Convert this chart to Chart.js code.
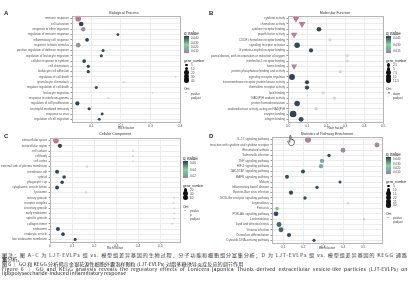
<!DOCTYPE html>
<html lang="zh-CN">
<head>
<meta charset="utf-8">
<script src="https://cdn.jsdelivr.net/npm/chart.js@4.4.1/dist/chart.umd.min.js"></script>
<style>
  body { margin: 0; width: 420px; height: 300px; background: #fff; position: relative; overflow: hidden;
         font-family: "Liberation Sans", Arial, sans-serif; color: #222; }
  .abs { position: absolute; white-space: nowrap; }
  .letter { font-size: 6px; font-weight: bold; }
  .ttl { font-size: 3.6px; color: #333; transform: translateX(-50%); }
  .cap { position: absolute; left: 2px; font-family: "Noto Sans CJK SC", "Liberation Sans", sans-serif;
         font-size: 4.3px; line-height: 4.6px; color: #2a2a2a; white-space: nowrap;
         transform: scaleX(1.2); transform-origin: 0 0; }
  .cap.full { width: 338px; white-space: normal; text-align: justify; text-align-last: justify; }
  #hand { position: absolute; left: 287px; top: 135px; width: 9px; height: 11px; }
</style>
</head>
<body>
<script>
// ---- data: GO biological process
const bpTerms = ["immune response", "cell activation", "response to other organism", "regulation of immune response",
  "inflammatory cell response", "response to biotic stimulus", "positive regulation of defense response",
  "regulation of leukocyte migration", "cellular response to cytokine", "cell chemotaxis", "leukocyte cell adhesion",
  "regulation of cell death", "granulocyte chemotaxis", "negative regulation of cell death", "leukocyte migration",
  "response to interferon-gamma", "regulation of cell proliferation", "neutrophil mediated immunity",
  "response to virus", "regulation of cell migration"];
const bpRich  = [0.056, 0.066, 0.073, 0.19, 0.086, 0.056, 0.14, 0.134, 0.076, 0.09, 0.09, 0.385, 0.21, 0.117, 0.307, 0.158, 0.053, 0.093, 0.137, 0.127];
const bpGenes = [40, 25, 22, 6, 15, 28, 8, 8, 14, 10, 10, 2, 3, 8, 2, 3, 20, 9, 7, 7];
const bpQ     = [0.001, 0.039, 0.004, 0.039, 0.039, 0.005, 0.038, 0.038, 0.039, 0.039, 0.039, 0.04, 0.04, 0.038, 0.04, 0.04, 0.039, 0.039, 0.038, 0.038];
const bpType  = ["p","p","p","p","p","p","p","p","p","p","p","n","n","p","n","n","p","p","p","p"];

// ---- data: GO molecular function
const mfTerms = ["cytokine activity", "chemokine activity", "cytokine receptor binding", "growth factor activity",
  "CXCR chemokine receptor binding", "signaling receptor activator", "G protein-coupled receptor binding",
  "oxidoreductase activity, acting on paired donors, with incorporation or reduction of oxygen",
  "interleukin-1 receptor binding", "heme binding", "protein phosphatase binding and activity",
  "signaling receptor regulator", "transmembrane receptor protein kinase activity", "chemokine receptor activity",
  "lipid binding", "NAD(P)H oxidase activity", "protein homodimerization",
  "oxidoreductase activity, acting on NAD(P)H", "enzyme binding", "integrin binding"];
const mfRich  = [0.047, 0.079, 0.168, 0.037, 0.226, 0.053, 0.126, 0.316, 0.316, 0.037, 0.28, 0.026, 0.105, 0.105, 0.19, 0.25, 0.053, 0.153, 0.032, 0.074];
const mfGenes = [30, 28, 8, 26, 3, 12, 6, 3, 3, 22, 3, 14, 6, 6, 3, 3, 12, 4, 18, 9];
const mfQ     = [0.002, 0.003, 0.048, 0.004, 0.05, 0.048, 0.048, 0.05, 0.05, 0.005, 0.05, 0.049, 0.048, 0.048, 0.05, 0.05, 0.048, 0.05, 0.049, 0.048];
const mfType  = ["a","a","p","a","n","p","p","n","n","a","n","p","p","p","n","n","p","n","p","p"];

// ---- data: GO cellular component
const ccTerms = ["extracellular space", "extracellular region", "cell surface", "cell body", "cell cortex",
  "external side of plasma membrane", "membrane raft", "cytosol", "phagocytic cup", "cytoplasmic vesicle lumen",
  "lysosome", "tertiary granule", "receptor complex", "secretory granule", "early endosome", "specific granule",
  "collagen trimer", "endosome", "endocytic vesicle", "late endosome membrane"];
const ccRich  = [0.027, 0.045, 0.377, 0.377, 0.377, 0.168, 0.032, 0.064, 0.055, 0.032, 0.164, 0.564, 0.56, 0.564, 0.564, 0.564, 0.555, 0.036, 0.059, 0.114];
const ccGenes = [60, 30, 3, 3, 3, 6, 25, 18, 18, 25, 6, 3, 3, 3, 3, 3, 3, 25, 20, 12];
const ccQ     = [0.002, 0.058, 0.06, 0.06, 0.06, 0.06, 0.058, 0.058, 0.058, 0.058, 0.06, 0.06, 0.06, 0.06, 0.06, 0.06, 0.06, 0.058, 0.058, 0.058];
const ccType  = ["p","p","n","n","n","n","p","p","p","p","n","n","n","n","n","n","n","p","p","p"];

// ---- data: KEGG pathways
const kgTerms = ["IL-17 signaling pathway", "Viral protein interaction with cytokine and cytokine receptor",
  "Rheumatoid arthritis", "Salmonella infection", "TNF signaling pathway", "HIF-1 signaling pathway",
  "JAK-STAT signaling pathway", "MAPK signaling pathway", "Malaria", "Inflammatory bowel disease",
  "Epstein-Barr virus infection", "NOD-like receptor signaling pathway", "Legionellosis", "Pertussis",
  "PI3K-Akt signaling pathway", "Leishmaniasis", "Lipid and atherosclerosis", "Yersinia infection",
  "Osteoclast differentiation", "Cytosolic DNA-sensing pathway"];
const kgRich  = [0.225, 0.57, 0.40, 0.33, 0.295, 0.29, 0.20, 0.12, 0.385, 0.27, 0.14, 0.21, 0.425, 0.07, 0.065, 0.505, 0.08, 0.09, 0.13, 0.255];
const kgGenes = [35, 22, 22, 8, 16, 16, 12, 12, 6, 8, 14, 8, 4, 10, 20, 4, 22, 22, 14, 7];
const kgQ     = [0.003, 0.004, 0.004, 0.038, 0.008, 0.008, 0.038, 0.038, 0.038, 0.038, 0.038, 0.038, 0.04, 0.022, 0.038, 0.04, 0.034, 0.034, 0.038, 0.038];
const kgType  = ["p","p","p","p","p","p","p","p","p","p","p","p","n","p","p","n","p","p","p","p"];

// legend labels
const bpQTicks = ["0.010", "0.020", "0.030", "0.040"];
const mfQTicks = ["0.015", "0.030", "0.045"];
const ccQTicks = ["0.02", "0.04", "0.06"];
const kgQTicks = ["0.010", "0.020", "0.030", "0.040"];
const bpGeneLegend = [5, 10, 20, 30, 40];
const mfGeneLegend = [2.5, 5, 7.5, 10, 12.5];
const ccGeneLegend = [20, 40, 60];
const kgGeneLegend = [5, 10, 15, 20, 25, 30];

const barColors = ["#2f3a55", "#4f8a78", "#8fcf8a", "#66b8b5", "#d06a8c"]; // high q -> low q

function hex(c) { return [1, 3, 5].map(i => parseInt(c.substr(i, 2), 16)); }
function qColor(q, qMax) {
  const t = 1 - Math.min(1, q / qMax); // 0 = high q (top of bar), 1 = low q
  const n = barColors.length - 1, k = Math.min(n - 1, Math.floor(t * n)), f = t * n - k;
  const a = hex(barColors[k]), b = hex(barColors[k + 1]);
  return "rgb(" + a.map((v, i) => Math.round(v + (b[i] - v) * f)).join(",") + ")";
}
function radius(g, scale) { return 0.5 + Math.sqrt(g / scale) * 2.3; }

const boxPlugin = {
  id: "box",
  afterDraw(chart) {
    const a = chart.chartArea, ctx = chart.ctx;
    ctx.save(); ctx.strokeStyle = "#b5b5b5"; ctx.lineWidth = 1;
    ctx.strokeRect(Math.round(a.left) + 0.5, Math.round(a.top) + 0.5, Math.round(a.right - a.left), Math.round(a.bottom - a.top));
    ctx.restore();
  }
};

function addText(cls, txt, x, y, style) {
  const d = document.createElement("div");
  d.className = "abs " + cls; d.textContent = txt;
  d.style.left = x + "px"; d.style.top = y + "px";
  if (style) d.style.cssText += style;
  document.body.appendChild(d);
  return d;
}

function panel(o) {
  const cv = document.createElement("canvas");
  cv.width = o.w; cv.height = o.h;
  cv.style.cssText = `position:absolute;left:${o.left}px;top:${o.top}px;width:${o.w}px;height:${o.h}px`;
  document.body.appendChild(cv);
  const maxG = Math.max(...o.geneLegend);
  new Chart(cv, {
    type: "bubble",
    data: {
      datasets: [{
        data: o.terms.map((t, i) => ({ x: o.rich[i], y: t, r: radius(o.genes[i], maxG) })),
        backgroundColor: o.terms.map((t, i) => o.type[i] === "n" ? "#d6d6d6" : qColor(o.q[i], o.qMax)),
        borderWidth: 0,
        pointStyle: c => o.type[c.dataIndex] === "a" ? "triangle" : "circle",
        rotation: c => o.type[c.dataIndex] === "a" ? 180 : 0
      }]
    },
    options: {
      responsive: false, animation: false, devicePixelRatio: 1,
      layout: { padding: { left: 0, top: o.padTop, right: o.padRight, bottom: 0 } },
      plugins: { legend: { display: false }, tooltip: { enabled: false } },
      scales: {
        x: {
          type: "linear", min: o.xMin, max: o.xMax,
          ticks: { stepSize: 0.1, includeBounds: false, font: { size: 3.4 }, color: "#4d4d4d", padding: 0.5 },
          grid: { color: "#ececec", tickLength: 1.5, tickColor: "#999" },
          border: { display: false },
          title: { display: true, text: "Rich factor", font: { size: 3.4 }, color: "#333", padding: 0 },
          afterFit: s => { s.height = o.xh; }
        },
        y: {
          type: "category", labels: o.terms, offset: true,
          ticks: { autoSkip: false, font: { size: o.labelSize }, color: "#555", padding: 1.5 },
          grid: { color: "#ececec", tickLength: 1.5, tickColor: "#999", offset: false },
          border: { display: false },
          afterFit: s => { s.width = o.yw; }
        }
      }
    },
    plugins: [boxPlugin]
  });

  // panel letter and title
  addText("letter", o.letter, o.letterX, o.letterY);
  addText("ttl", o.title, o.titleX, o.titleY);

  // legend
  const lx = o.legX; let y = o.legY;
  addText("", "q value", lx, y, "font-size:4.6px;color:#222");
  const bar = document.createElement("div");
  bar.className = "abs";
  bar.style.cssText = `left:${lx}px;top:${y + 5}px;width:5px;height:17px;background:linear-gradient(to bottom,${barColors.join(",")})`;
  document.body.appendChild(bar);
  o.qTicks.slice().reverse().forEach((t, i, arr) => {
    addText("", t, lx + 7, y + 5 + 2 + i * (13 / Math.max(1, arr.length - 1)) - 1.6, "font-size:3px;color:#444");
  });
  y += 30;
  addText("", "gene_number", lx, y - 2, "font-size:3.3px;color:#222");
  o.geneLegend.forEach((g, i) => {
    const r = radius(g, maxG), cy = y + 4 + i * 3.8;
    const dot = document.createElement("div");
    dot.className = "abs";
    dot.style.cssText = `left:${lx + 2.5 - r}px;top:${cy - r}px;width:${2 * r}px;height:${2 * r}px;border-radius:50%;background:#111`;
    document.body.appendChild(dot);
    addText("", String(g), lx + 7, cy - 1.7, "font-size:3px;color:#444");
  });
  y += 4 + (o.geneLegend.length - 1) * 3.8 + 9;
  addText("", "Ont", lx, y - 2, "font-size:3.3px;color:#222");
  o.typeLegend.forEach((t, i) => {
    const cy = y + 4 + i * 4;
    addText("", t[0], lx + 1.5, cy - 1.8, "font-size:3px;color:#111");
    addText("", t[1], lx + 7, cy - 1.6, "font-size:3px;color:#444");
  });
}

panel({ left: 0, top: 0, w: 210, h: 130, padTop: 16, padRight: 30, yw: 72, xh: 8, labelSize: 3,
  xMin: 0.035, xMax: 0.4, terms: bpTerms, rich: bpRich, genes: bpGenes, q: bpQ, type: bpType, qMax: 0.04,
  letter: "A", letterX: 4, letterY: 10, title: "Biological Process", titleX: 124, titleY: 10.5,
  legX: 184, legY: 31, qTicks: bpQTicks, geneLegend: bpGeneLegend, typeLegend: [["•", "pvalue"], ["·", "padjust"]] });

panel({ left: 210, top: 0, w: 210, h: 130, padTop: 16, padRight: 37, yw: 78, xh: 8, labelSize: 3,
  xMin: 0.005, xMax: 0.505, terms: mfTerms, rich: mfRich, genes: mfGenes, q: mfQ, type: mfType, qMax: 0.05,
  letter: "B", letterX: 209, letterY: 10, title: "Molecular Function", titleX: 335, titleY: 10.5,
  legX: 386, legY: 31, qTicks: mfQTicks, geneLegend: mfGeneLegend, typeLegend: [["▼", "down"], ["·", "padjust"]] });

panel({ left: 0, top: 125, w: 210, h: 125, padTop: 13, padRight: 30, yw: 50, xh: 8, labelSize: 3,
  xMin: 0, xMax: 0.59, terms: ccTerms, rich: ccRich, genes: ccGenes, q: ccQ, type: ccType, qMax: 0.06,
  letter: "C", letterX: 4, letterY: 133, title: "Cellular Component", titleX: 115, titleY: 132,
  legX: 183, legY: 156, qTicks: ccQTicks, geneLegend: ccGeneLegend, typeLegend: [["•", "pvalue"], ["·", "p"], ["·", "padjust"]] });

panel({ left: 210, top: 125, w: 210, h: 125, padTop: 12, padRight: 38, yw: 62, xh: 7, labelSize: 3,
  xMin: 0.045, xMax: 0.595, terms: kgTerms, rich: kgRich, genes: kgGenes, q: kgQ, type: kgType, qMax: 0.04,
  letter: "D", letterX: 209, letterY: 133, title: "Statistics of Pathway Enrichment", titleX: 327, titleY: 131.5,
  legX: 386, legY: 152, qTicks: kgQTicks, geneLegend: kgGeneLegend, typeLegend: [["•", "pvalue"], ["·", "padjust"]] });

// mouse pointer captured in the original screenshot
document.body.insertAdjacentHTML("beforeend",
  '<svg id="hand" viewBox="0 0 16 20"><path d="M5 1.2C5 .2 6.8 .2 6.8 1.2V8.2C7 6.8 9 6.8 9 8V9C9.1 7.9 11 7.9 11 9.1V10C11.1 9 13 9 13 10.2V14.2C13 17 11.6 19 9.2 19H7.2C5.4 19 4.3 18 3.3 16.2L1.2 12.3C.6 11.2 1.7 10.2 2.7 11L5 13.2Z" fill="#fff" stroke="#111" stroke-width="1.1"/></svg>');

// caption (full-width lines are spread over the text block)
const captionLines = [
  "图注：图 A–C 为 LJT-EVLPs 组 vs. 模型组差异基因的生物过程、分子功能和细胞组分富集分析；D 为 LJT-EVLPs 组 vs. 模型组差异基因的 KEGG 通路富",
  "集分析。",
  "图 6 ｜ GO 和 KEGG 分析揭示金银花源性细胞外囊泡样颗粒 (LJT-EVLPs) 对脂多糖诱导炎症反应的调节作用",
  "Figure 6 ｜ GO and KEGG analysis reveals the regulatory effects of Lonicera japonica Thunb.-derived extracellular vesicle-like particles (LJT-EVLPs) on",
  "lipopolysaccharide-induced inflammatory response"
];
const capY = [252.6, 257.3, 262, 266.7, 271.3];
const capFull = [true, false, false, true, false];
const capSpacing = [0.65, 0, 0, 0.12, 0];
captionLines.forEach((t, i) => {
  const d = document.createElement("div");
  d.className = "cap" + (capFull[i] ? " full" : "");
  d.textContent = t;
  d.style.top = capY[i] + "px";
  d.style.letterSpacing = capSpacing[i] + "px";
  document.body.appendChild(d);
});
</script>
</body>
</html>
